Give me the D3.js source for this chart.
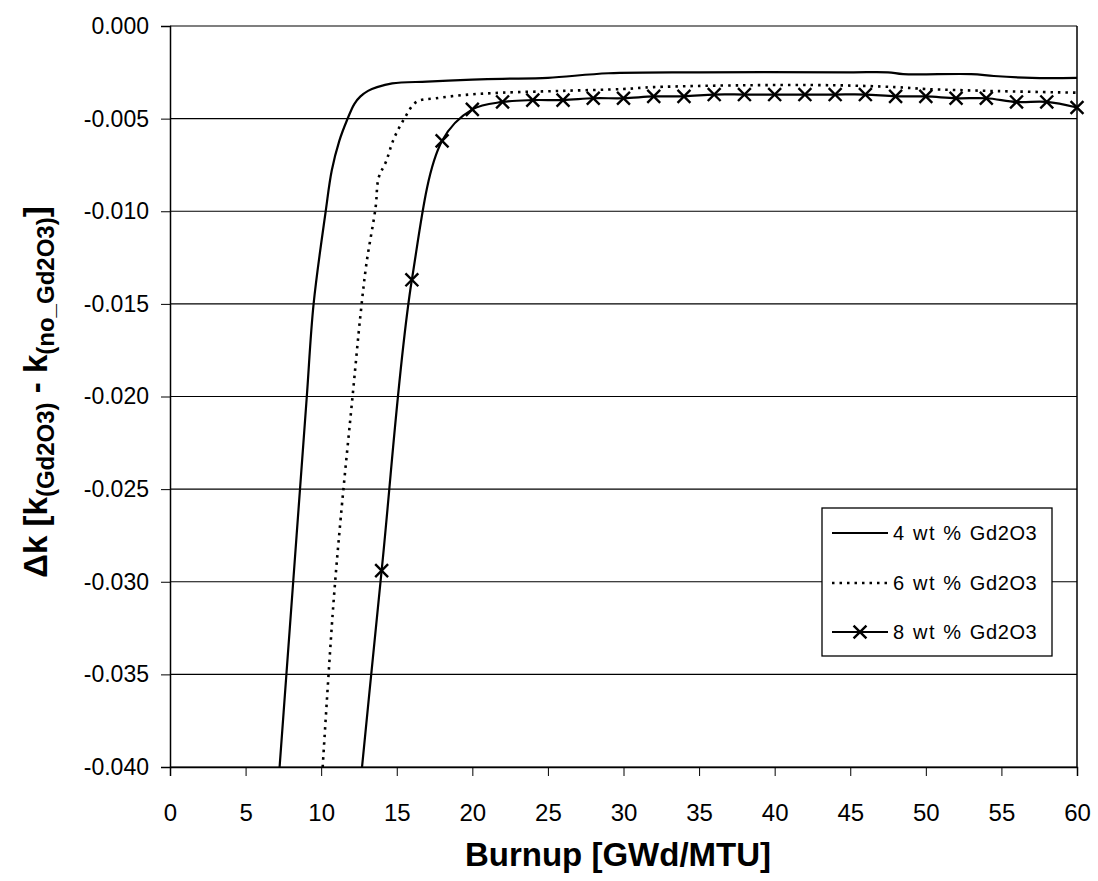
<!DOCTYPE html>
<html><head><meta charset="utf-8">
<script src="https://cdn.jsdelivr.net/npm/d3@7"></script>
<style>
body{margin:0;background:#fff;}
text{font-family:"Liberation Sans",Arial,Helvetica,sans-serif;fill:#000;}
</style></head>
<body><svg id="chart" width="1098" height="881"></svg>
<script>
// ---- data ----
const xTickValues = [0,5,10,15,20,25,30,35,40,45,50,55,60];
const yTickValues = [0,-0.005,-0.010,-0.015,-0.020,-0.025,-0.030,-0.035,-0.040];
const yTickLabels = ["0.000","-0.005","-0.010","-0.015","-0.020","-0.025","-0.030","-0.035","-0.040"];

const burnup4 = [7.25,7.7,8.15,8.6,9.05,9.5,10.3,10.7,11.2,11.7,12.2,12.6,13.1,13.7,14.7,17,20,22,25,29,35,45,47.5,48.5,53,54.5,57,60];
const dk4     = [-0.040,-0.035,-0.030,-0.025,-0.020,-0.015,-0.010,-0.0078,-0.0062,-0.0051,-0.0042,-0.0038,-0.0035,-0.0033,-0.0031,-0.0030,-0.0029,-0.00285,-0.0028,-0.00255,-0.0025,-0.0025,-0.0025,-0.0026,-0.0026,-0.0027,-0.0028,-0.0028];

const burnup6 = [10.1,10.8,11.3,12.1,12.6,13.0,13.6,13.8,14.3,14.8,15.5,16.3,17.6,19.8,22,26,30,32,38,44,48,50,54,60];
const dk6     = [-0.040,-0.0313,-0.0265,-0.0198,-0.0156,-0.0128,-0.0098,-0.0082,-0.0073,-0.0061,-0.0050,-0.0041,-0.0039,-0.0037,-0.0036,-0.0035,-0.0034,-0.0033,-0.0032,-0.0032,-0.0033,-0.0034,-0.0035,-0.0036];

const burnup8 = [12,14,16,18,20,22,24,26,28,30,32,34,36,38,40,42,44,46,48,50,52,54,56,58,60];
const dk8     = [-0.0458,-0.0294,-0.0137,-0.0062,-0.0045,-0.0041,-0.0040,-0.0040,-0.0039,-0.0039,-0.0038,-0.0038,-0.0037,-0.0037,-0.0037,-0.0037,-0.0037,-0.0037,-0.0038,-0.0038,-0.0039,-0.0039,-0.0041,-0.0041,-0.0044];

const legendNumbers = ["4 wt %","6 wt %","8 wt %"];
const legendCompound = "Gd2O3";

// ---- layout ----
const svg = d3.select("#chart");
const L = 170, R = 1077, T = 26, B = 767;
const x = d3.scaleLinear().domain([0,60]).range([L,R]);
const y = d3.scaleLinear().domain([-0.040,0]).range([B,T]);

svg.append("defs").append("clipPath").attr("id","plotclip")
  .append("rect").attr("x",L).attr("y",T).attr("width",R-L).attr("height",B-T);

// gridlines
svg.append("g").selectAll("line").data(yTickValues).join("line")
  .attr("x1",L).attr("x2",R).attr("y1",d=>y(d)).attr("y2",d=>y(d))
  .attr("stroke","#000").attr("stroke-width",1.2);

// frame right
svg.append("line").attr("x1",R).attr("x2",R).attr("y1",T).attr("y2",B).attr("stroke","#000").attr("stroke-width",1.5);

// y axis
const yAxis = d3.axisLeft(y).tickValues(yTickValues).tickFormat((d,i)=>yTickLabels[i]).tickSize(9).tickPadding(12);
const gy = svg.append("g").attr("transform",`translate(${L},0)`).call(yAxis);
gy.select(".domain").attr("stroke-width",1.5);
gy.selectAll("text").style("font-size","23px").attr("font-family","Liberation Sans, Arial, sans-serif");

// x axis
const xAxis = d3.axisBottom(x).tickValues(xTickValues).tickFormat(d=>String(d)).tickSize(9).tickPadding(28);
const gx = svg.append("g").attr("transform",`translate(0,${B})`).call(xAxis);
gx.select(".domain").attr("stroke-width",1.5);
gx.selectAll("text").style("font-size","24px").attr("font-family","Liberation Sans, Arial, sans-serif");

// lines
const lineGen = d3.line().curve(d3.curveCatmullRom.alpha(0.5)).x(d=>x(d[0])).y(d=>y(d[1]));
const plot = svg.append("g").attr("clip-path","url(#plotclip)");
const s4 = burnup4.map((b,i)=>[b,dk4[i]]);
const s6 = burnup6.map((b,i)=>[b,dk6[i]]);
const s8 = burnup8.map((b,i)=>[b,dk8[i]]);
plot.append("path").attr("d",lineGen(s4)).attr("fill","none").attr("stroke","#000").attr("stroke-width",2.2);
plot.append("path").attr("d",lineGen(s6)).attr("fill","none").attr("stroke","#000").attr("stroke-width",2.6).attr("stroke-dasharray","2.5,5");
plot.append("path").attr("d",lineGen(s8)).attr("fill","none").attr("stroke","#000").attr("stroke-width",2.2);

const xMark = d3.symbol().type(d3.symbolX).size(110);
svg.append("g").selectAll("path").data(s8.filter(d=>d[1]>=-0.040)).join("path")
  .attr("transform",d=>`translate(${x(d[0])},${y(d[1])})`)
  .attr("d",xMark).attr("fill","none").attr("stroke","#000").attr("stroke-width",2.4);

// axis titles
svg.append("text").attr("x",618).attr("y",866).attr("text-anchor","middle")
  .style("font-size","33px").style("font-weight","bold").text("Burnup [GWd/MTU]");

const yt = svg.append("text").attr("transform","translate(47,392) rotate(-90)").attr("text-anchor","middle")
  .style("font-size","33px").style("font-weight","bold");
yt.append("tspan").text("\u0394k [k");
yt.append("tspan").style("font-size","24px").attr("dy",7).text("(Gd2O3)");
yt.append("tspan").attr("dy",-7).text(" - k");
yt.append("tspan").style("font-size","24px").attr("dy",7).text("(no_Gd2O3)");
yt.append("tspan").attr("dy",-7).text("]");

// legend
const lgX = 822, lgY = 508, lgW = 230, lgH = 148;
const lg = svg.append("g");
lg.append("rect").attr("x",lgX).attr("y",lgY).attr("width",lgW).attr("height",lgH)
  .attr("fill","#fff").attr("stroke","#000").attr("stroke-width",1.3);
const rows = [533,583,632];
const dashes = [null,"2.5,5",null];
legendNumbers.forEach((name,i)=>{
  lg.append("line").attr("x1",lgX+10).attr("x2",lgX+66).attr("y1",rows[i]).attr("y2",rows[i])
    .attr("stroke","#000").attr("stroke-width",i===1?2.6:2.2).attr("stroke-dasharray",dashes[i]);
  if(i===2){
    lg.append("path").attr("transform",`translate(${lgX+38},${rows[i]})`).attr("d",xMark)
      .attr("fill","none").attr("stroke","#000").attr("stroke-width",2.4);
  }
  const t = lg.append("text").attr("x",lgX+71).attr("y",rows[i]).attr("dy","0.35em").style("font-size","20px");
  t.append("tspan").style("letter-spacing","1.6px").text(name + " ");
  t.append("tspan").style("letter-spacing","0.6px").text(legendCompound);
});
</script></body></html>
